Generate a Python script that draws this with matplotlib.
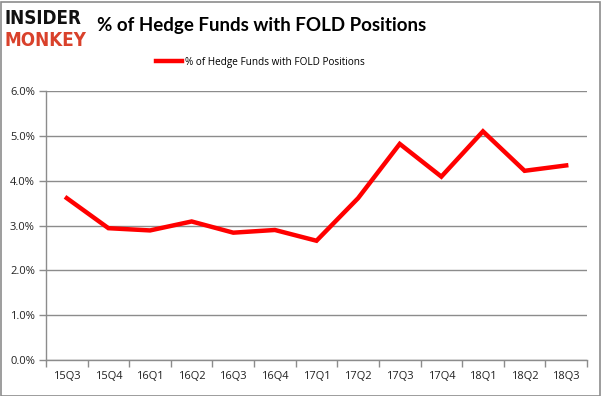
import matplotlib
matplotlib.use("Agg")
import matplotlib.pyplot as plt
from matplotlib.ticker import FixedLocator, FuncFormatter

quarters = ["15Q3", "15Q4", "16Q1", "16Q2", "16Q3", "16Q4", "17Q1",
            "17Q2", "17Q3", "17Q4", "18Q1", "18Q2", "18Q3"]
pct_values = [3.61, 2.94, 2.89, 3.09, 2.84, 2.90, 2.66,
              3.61, 4.82, 4.09, 5.10, 4.22, 4.34]
y_ticks = [0, 1, 2, 3, 4, 5, 6]
series_label = "% of Hedge Funds with FOLD Positions"
title_text = "% of Hedge Funds with FOLD Positions"

W, H = 601, 396
fig = plt.figure(figsize=(W / 100, H / 100), dpi=100)
fig.patch.set_facecolor("white")

# outer border
fig.add_artist(plt.Rectangle((0.5 / W, 0.5 / H), 1 - 2 / W, 1 - 2 / H,
                             transform=fig.transFigure, fill=False,
                             edgecolor="#8c8c8c", linewidth=1.2))

ax = fig.add_axes([46 / W, (H - 360) / H, (587 - 46) / W, (360 - 91) / H])
x = list(range(len(quarters)))
line, = ax.plot(x, pct_values, color="#ff0000", linewidth=3.2,
                solid_joinstyle="miter", label=series_label)

ax.set_xlim(-0.5, len(quarters) - 0.5)
ax.set_ylim(0, 6)
ax.set_yticks(y_ticks)
ax.yaxis.set_major_formatter(FuncFormatter(lambda v, p: f"{v:.1f}%"))
ax.grid(axis="y", color="#8c8c8c", linewidth=1.0)
ax.set_axisbelow(True)

ax.xaxis.set_major_locator(FixedLocator([i - 0.5 for i in range(len(quarters) + 1)]))
ax.xaxis.set_minor_locator(FixedLocator(x))
ax.set_xticklabels([], minor=False)
ax.set_xticklabels(quarters, minor=True)
ax.tick_params(axis="x", which="major", length=5, color="#8c8c8c", width=1)
ax.tick_params(axis="x", which="minor", length=0, pad=8, labelsize=8, labelcolor="#222222")
ax.tick_params(axis="y", length=5, color="#8c8c8c", width=1, labelsize=8,
               labelcolor="#222222", pad=3)
for s in ["top", "right"]:
    ax.spines[s].set_visible(False)
for s in ["left", "bottom"]:
    ax.spines[s].set_color("#8c8c8c")
    ax.spines[s].set_linewidth(1)

for lbl in ax.get_xticklabels(minor=True) + ax.get_yticklabels():
    lbl.set_fontfamily(["Open Sans", "DejaVu Sans"])

# legend
fig.legend(handles=[line], labels=[series_label], loc="center",
           bbox_to_anchor=(260 / W, 1 - 62 / H), frameon=False,
           prop={"family": "Open Sans", "size": 7.2}, handlelength=2.6,
           handletextpad=0.3)

# title
fig.text(97 / W, 1 - 25 / H, title_text, ha="left", va="center",
         fontsize=13.5, fontweight="bold", family=["Lato", "DejaVu Sans"], color="black")

# logo
fig.text(4 / W, 1 - 18 / H, "INSIDER", ha="left", va="center", fontsize=13.5,
         fontweight="heavy", family="DejaVu Sans", stretch="condensed", color="#111111")
fig.text(4 / W, 1 - 40 / H, "MONKEY", ha="left", va="center", fontsize=13.5,
         fontweight="heavy", family="DejaVu Sans", stretch="condensed", color="#d9412b")

fig.savefig("out.png", dpi=100, facecolor="white")
